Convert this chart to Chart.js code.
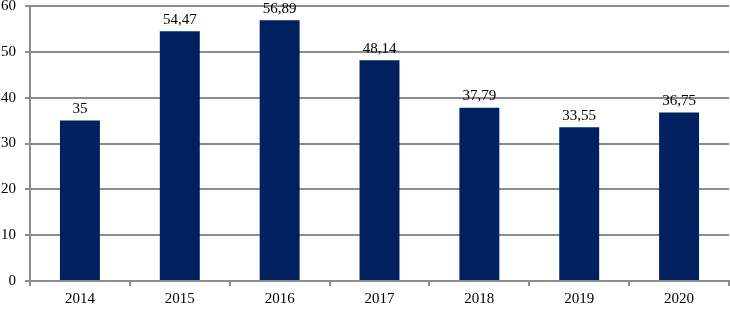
<!DOCTYPE html>
<html>
<head>
<meta charset="utf-8">
<script src="https://cdn.jsdelivr.net/npm/chart.js@4"></script>
<style>
  html, body { margin: 0; padding: 0; background: #fff; }
  #wrap { width: 730px; height: 309px; overflow: hidden; }
  #inner { width: 730px; height: 321px; margin-top: -12px; }
</style>
</head>
<body>
<div id="wrap"><div id="inner"><canvas id="chart"></canvas></div></div>
<script>
// values
const years = ['2014', '2015', '2016', '2017', '2018', '2019', '2020'];
const values = [35, 54.47, 56.89, 48.14, 37.79, 33.55, 36.75];
const yTicks = [0, 10, 20, 30, 40, 50, 60];

const FONT = '"Liberation Serif", "Times New Roman", serif';
const GRID = '#8c8c8c';

// labels above the bars, with a comma as decimal separator
const barLabels = {
  id: 'barLabels',
  afterDatasetsDraw(chart) {
    const ctx = chart.ctx;
    const meta = chart.getDatasetMeta(0);
    ctx.save();
    ctx.font = '15px ' + FONT;
    ctx.fillStyle = '#000';
    ctx.textAlign = 'center';
    ctx.textBaseline = 'bottom';
    meta.data.forEach((bar, i) => {
      ctx.fillText(String(values[i]).replace('.', ','), bar.x, bar.y - 4);
    });
    ctx.restore();
  }
};

new Chart(document.getElementById('chart'), {
  type: 'bar',
  data: {
    labels: years,
    datasets: [{
      data: values,
      backgroundColor: '#002060',
      barPercentage: 0.4,
      categoryPercentage: 1
    }]
  },
  options: {
    responsive: true,
    maintainAspectRatio: false,
    animation: false,
    layout: { padding: { top: 0, right: 1, left: 0, bottom: 0 } },
    plugins: { legend: { display: false }, tooltip: { enabled: false } },
    scales: {
      x: {
        offset: true,
        grid: { offset: true, drawOnChartArea: false, drawTicks: true, tickLength: 5, color: GRID, lineWidth: 2 },
        border: { color: GRID, width: 2 },
        ticks: { color: '#000', font: { family: FONT, size: 15 }, padding: 4 },
        afterFit(axis) { axis.height = 28; }
      },
      y: {
        min: 0,
        max: 60,
        afterBuildTicks(axis) { axis.ticks = yTicks.map(v => ({ value: v })); },
        grid: { color: GRID, lineWidth: 2, tickLength: 5 },
        border: { color: GRID, width: 2 },
        ticks: { color: '#000', font: { family: FONT, size: 15 }, padding: 9 },
        afterFit(axis) { axis.width = 30; }
      }
    }
  },
  plugins: [barLabels]
});
</script>
</body>
</html>
